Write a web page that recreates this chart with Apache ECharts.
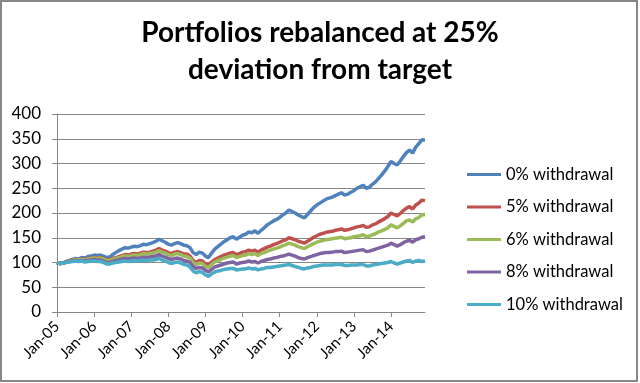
<!DOCTYPE html>
<html>
<head>
<meta charset="utf-8">
<script src="https://cdn.jsdelivr.net/npm/echarts@6/dist/echarts.min.js"></script>
<style>
html,body{margin:0;padding:0;background:#fff;}
#chart{width:640px;height:383px;}
</style>
</head>
<body>
<div id="chart"></div>
<script>
const titleText = 'Portfolios rebalanced at 25%\ndeviation from target';
const monthNames = ['Jan','Feb','Mar','Apr','May','Jun','Jul','Aug','Sep','Oct','Nov','Dec'];
const years = ['05','06','07','08','09','10','11','12','13','14'];
const yTicks = {min: 0, max: 400, interval: 50};
const seriesNames = ['0% withdrawal','5% withdrawal','6% withdrawal','8% withdrawal','10% withdrawal'];
const seriesColors = ['#4F81BD','#C0504D','#9BBB59','#8064A2','#4BACC6'];

const w0 = [
  100, 98, 99, 102, 104, 106, 108, 107, 110, 109, 112, 113,
  115, 114, 115, 113, 110, 111, 116, 120, 124, 127, 130, 129,
  131, 133, 132, 134, 137, 136, 138, 140, 143, 147, 144, 141,
  137, 135, 138, 140, 138, 135, 134, 130, 120, 116, 121, 119,
  113, 110, 119, 127, 132, 137, 142, 146, 150, 152, 147, 151,
  155, 157, 162, 160, 164, 159, 165, 170, 176, 180, 184, 187,
  191, 196, 200, 206, 203, 200, 196, 193, 190, 197, 204, 211,
  216, 220, 224, 228, 230, 232, 235, 238, 241, 236, 238, 242,
  245, 250, 253, 256, 250, 252, 258, 263, 270, 277, 285, 294,
  304, 300, 297, 305, 314, 322, 327, 321, 333, 340, 348, 347
];
const w5 = [
  100, 98, 99, 101, 103, 105, 106, 105, 107, 106, 108, 109,
  110, 109, 110, 108, 105, 106, 108, 110, 112, 114, 116, 115,
  117, 118, 117, 119, 121, 120, 121, 123, 125, 128, 125, 123,
  120, 118, 121, 122, 120, 117, 117, 113, 104, 100, 104, 103,
  97, 95, 101, 106, 109, 112, 115, 117, 119, 120, 116, 118,
  121, 122, 125, 123, 125, 121, 125, 128, 131, 133, 136, 138,
  141, 144, 146, 150, 148, 146, 143, 141, 139, 143, 147, 151,
  154, 157, 159, 161, 162, 163, 165, 166, 168, 165, 166, 168,
  170, 172, 173, 175, 171, 172, 176, 178, 182, 185, 189, 193,
  200, 197, 194, 199, 205, 210, 213, 208, 216, 220, 226, 225
];
const w6 = [
  100, 98, 99, 101, 103, 104, 106, 105, 106, 105, 107, 108,
  109, 108, 109, 107, 104, 104, 106, 108, 110, 112, 113, 112,
  114, 115, 114, 116, 118, 117, 118, 119, 121, 124, 121, 119,
  116, 114, 117, 118, 116, 113, 112, 109, 100, 96, 99, 98,
  92, 90, 96, 101, 104, 106, 109, 111, 113, 114, 110, 112,
  114, 115, 118, 116, 118, 114, 118, 120, 123, 125, 127, 129,
  131, 134, 136, 139, 137, 135, 132, 130, 128, 132, 135, 138,
  141, 143, 145, 146, 147, 148, 149, 150, 151, 148, 149, 150,
  152, 153, 154, 156, 152, 153, 156, 158, 162, 164, 167, 170,
  176, 173, 170, 174, 179, 184, 186, 182, 188, 191, 196, 197
];
const w8 = [
  100, 98, 99, 101, 102, 103, 104, 103, 104, 103, 104, 105,
  106, 105, 105, 103, 100, 100, 102, 104, 105, 107, 108, 107,
  108, 109, 108, 109, 111, 110, 111, 112, 113, 116, 113, 111,
  108, 106, 108, 109, 107, 104, 103, 100, 92, 88, 90, 89,
  84, 81, 86, 91, 93, 95, 97, 99, 100, 101, 97, 99,
  100, 101, 103, 101, 102, 99, 102, 104, 106, 107, 109, 110,
  112, 113, 115, 117, 115, 113, 110, 108, 107, 110, 112, 114,
  116, 118, 119, 120, 120, 121, 122, 122, 123, 120, 121, 122,
  123, 124, 125, 126, 122, 123, 125, 127, 129, 131, 133, 135,
  139, 136, 133, 136, 140, 143, 145, 141, 146, 148, 151, 152
];
const w10 = [
  100, 98, 99, 100, 101, 102, 103, 102, 103, 101, 102, 103,
  103, 102, 102, 100, 97, 97, 99, 100, 101, 102, 103, 102,
  103, 104, 103, 104, 105, 104, 105, 105, 106, 108, 105, 103,
  100, 98, 100, 101, 99, 96, 95, 91, 83, 79, 82, 80,
  75, 72, 77, 81, 83, 84, 86, 87, 88, 88, 85, 86,
  87, 87, 89, 87, 88, 85, 87, 88, 90, 90, 91, 92,
  93, 94, 95, 96, 94, 92, 90, 88, 87, 89, 90, 92,
  93, 94, 95, 95, 95, 95, 96, 96, 96, 94, 94, 95,
  95, 95, 96, 96, 93, 93, 95, 96, 97, 98, 99, 100,
  102, 99, 97, 99, 101, 103, 104, 100, 103, 104, 102, 103
];
const seriesData = [w0, w5, w6, w8, w10];

const categories = [];
years.forEach(y => monthNames.forEach(m => categories.push(m + '-' + y)));

const FONT = 'Lato, "Open Sans", sans-serif';
const chart = echarts.init(document.getElementById('chart'), null, {renderer: 'canvas'});
chart.setOption({
  animation: false,
  backgroundColor: '#ffffff',
  title: {
    text: titleText,
    left: 'center',
    top: 14,
    padding: 0,
    textStyle: {fontFamily: FONT, fontSize: 28, fontWeight: 'bold', color: '#000', lineHeight: 37}
  },
  legend: {
    orient: 'vertical',
    left: 467,
    top: 166,
    padding: 0,
    itemWidth: 34,
    itemHeight: 3,
    itemGap: 15.5,
    textStyle: {fontFamily: FONT, fontSize: 16.5, color: '#000'},
    data: seriesNames.map(n => ({name: n, icon: 'rect'}))
  },
  grid: {left: 57, right: 215, top: 114, bottom: 71, containLabel: false},
  xAxis: {
    type: 'category',
    data: categories,
    boundaryGap: false,
    axisLine: {lineStyle: {color: '#868686', width: 1}},
    axisTick: {show: true, interval: 11, length: 5, lineStyle: {color: '#868686'}},
    axisLabel: {interval: 11, rotate: 45, fontFamily: FONT, fontSize: 15, color: '#000', margin: 12},
    splitLine: {show: false}
  },
  yAxis: {
    type: 'value',
    min: yTicks.min,
    max: yTicks.max,
    interval: yTicks.interval,
    axisLine: {show: true, lineStyle: {color: '#868686', width: 1}},
    axisTick: {show: true, length: 5, lineStyle: {color: '#868686'}},
    axisLabel: {fontFamily: FONT, fontSize: 17, color: '#000', margin: 16},
    splitLine: {show: true, lineStyle: {color: '#868686', width: 1}}
  },
  series: seriesNames.map((n, i) => ({
    name: n,
    type: 'line',
    data: seriesData[i],
    showSymbol: false,
    symbol: 'none',
    color: seriesColors[i],
    lineStyle: {width: 3.5, color: seriesColors[i]},
    itemStyle: {color: seriesColors[i]}
  })),
  graphic: [{
    type: 'rect',
    shape: {x: 1, y: 1, width: 636, height: 380},
    style: {fill: 'none', stroke: '#868686', lineWidth: 2},
    silent: true,
    z: 100
  }]
});
</script>
</body>
</html>
